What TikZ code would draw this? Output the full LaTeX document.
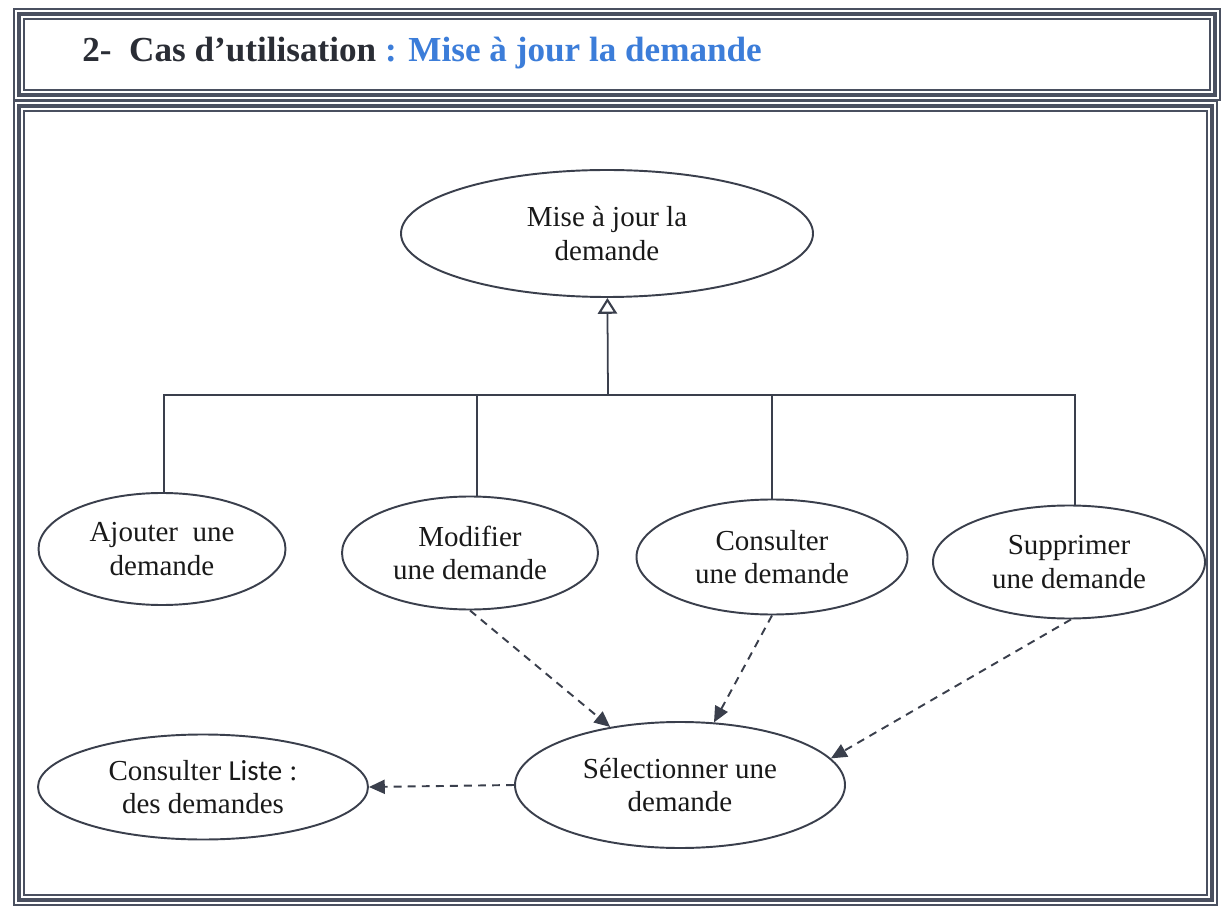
\documentclass[tikz,border=0pt]{standalone}
\usepackage{fontspec}
\setmainfont{Liberation Serif}
\newfontfamily\calibrifont{Carlito}
\usepackage{xcolor}
\usetikzlibrary{arrows.meta,shapes.geometric}
\definecolor{umlline}{HTML}{3A3F4C}
\definecolor{framegray}{HTML}{4A5060}
\definecolor{titleblue}{HTML}{3C7DD9}
\definecolor{titledark}{HTML}{2A2D35}

\begin{document}
\begin{tikzpicture}[
    uc/.style={draw=umlline, ellipse, line width=1.1pt, inner sep=0pt,
               align=center, font=\fontsize{16.5}{19}\selectfont, text=black!90},
    gen/.style={draw=umlline, line width=1pt},
    dep/.style={draw=umlline, line width=1.1pt, dash pattern=on 4.5pt off 3.5pt,
                -{Triangle[length=9pt, width=8pt]}},
    framethin/.style={draw=framegray, line width=0.6pt},
    framethick/.style={draw=framegray, line width=2.4pt},
]
\useasboundingbox (0,0) rectangle (24.48,-18.34);

% Frame (thin - thick - thin)
\draw[framethin] (0.28,-0.18) rectangle (24.40,-2.00);
\draw[framethick] (0.38,-0.28) rectangle (24.30,-1.90);
\draw[framethin] (0.48,-0.38) rectangle (24.20,-1.80);
\draw[framethin] (0.28,-2.02) rectangle (24.34,-18.10);
\draw[framethick] (0.38,-2.12) rectangle (24.24,-18.00);
\draw[framethin] (0.48,-2.22) rectangle (24.14,-17.90);

% Title
\node[anchor=base west, font=\fontsize{20}{24}\selectfont\bfseries, inner sep=0pt]
  (title) at (1.64,-1.24)
  {\textcolor{titledark}{2-\ \ Cas d’utilisation} \textcolor{titleblue}{: Mise à jour la demande}};

% Use cases
\node[uc, minimum width=8.24cm, minimum height=2.54cm] (maj) at (12.14,-4.67)
  {Mise à jour la\\demande};
\node[uc, minimum width=4.94cm, minimum height=2.24cm] (ajouter) at (3.24,-10.98)
  {Ajouter\ \ une\\demande};
\node[uc, minimum width=5.12cm, minimum height=2.26cm] (modifier) at (9.40,-11.06)
  {Modifier\\une demande};
\node[uc, minimum width=5.42cm, minimum height=2.30cm] (consulter) at (15.44,-11.14)
  {Consulter\\une demande};
\node[uc, minimum width=5.44cm, minimum height=2.26cm] (supprimer) at (21.38,-11.24)
  {Supprimer\\une demande};
\node[uc, minimum width=6.60cm, minimum height=2.10cm] (liste) at (4.06,-15.74)
  {Consulter {\calibrifont Liste} :\\des demandes};
\node[uc, minimum width=6.60cm, minimum height=2.52cm] (selection) at (13.60,-15.70)
  {Sélectionner une\\demande};

% Generalisation
\coordinate (bar) at (12.16,-7.90);
\draw[gen, -{Triangle[open, length=9pt, width=11pt, line width=1.2pt]}] (bar) -- (maj);
\draw[gen] (ajouter.88) |- (bar);
\draw[gen] (modifier.83) |- (bar);
\draw[gen] (consulter.north) |- (bar);
\draw[gen] (supprimer.84) |- (bar);

% Dependencies
\draw[dep] (modifier.south) -- (selection);
\draw[dep] (consulter.south) -- (selection);
\draw[dep] (supprimer.-88) -- (selection.10);
\draw[dep] (selection.west) -- (liste.east);
\end{tikzpicture}
\end{document}
